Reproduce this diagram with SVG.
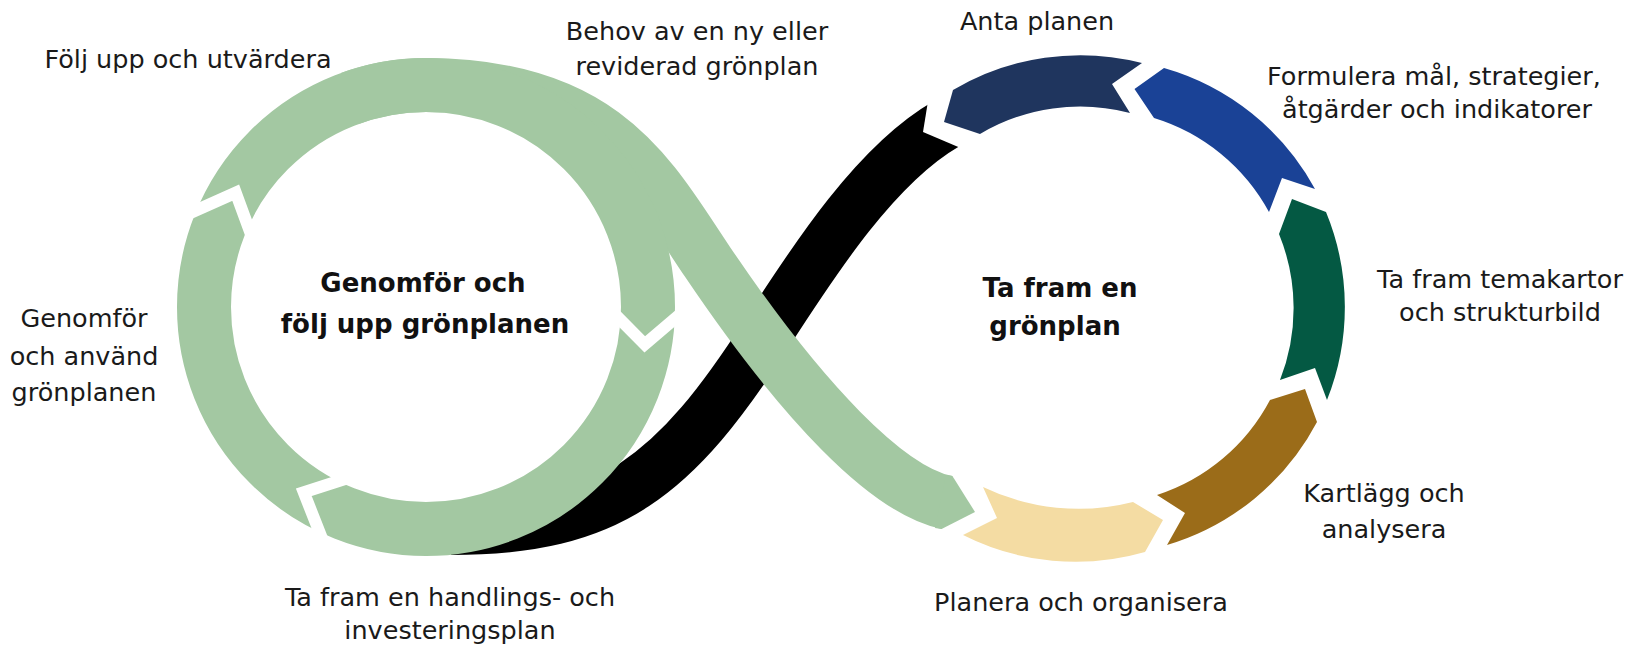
<svg xmlns="http://www.w3.org/2000/svg" width="1632" height="646" viewBox="0 0 1632 646">
<style>
.lbl{font-family:"DejaVu Sans","Noto Sans",sans-serif;font-size:25.5px;fill:#1a1a1a;text-anchor:middle}
.ttl{font-family:"DejaVu Sans","Noto Sans",sans-serif;font-size:26px;font-weight:700;fill:#111;text-anchor:middle}
.band{fill:none;stroke-linecap:butt}
.lg{fill:#a3c8a2}
.cut{fill:none;stroke:#fff;stroke-width:12;stroke-linejoin:miter;stroke-miterlimit:10}
</style>
<rect width="1632" height="646" fill="#fff"/>
<g id="connectors">
<path id="black-band" class="band" stroke="#000" stroke-width="52" d="M 946,124 C 876.7,164 815.6,257.4 767,333 C 675,476 611,529 451,529"/>
<polygon fill="#fff" points="929,95 923,132 963,149 978,112"/>
<path id="green-band" class="band" stroke="#a3c8a2" stroke-width="54" d="M 350.1,98.4 A 222 222 0 0 1 426,85 C 606,85 651.6,179 707.6,262 C 802.8,403.1 888,490.5 947,502.5"/>
<polygon class="lg" points="946,475 952.4,476 975,512 941.6,529 935,528"/>
</g>
<g id="left-cycle">
<circle cx="426" cy="307" r="222" fill="none" stroke="#a3c8a2" stroke-width="54"/>
<polyline class="cut" points="179.6,217.8 235.7,192.7 254.9,245"/>
<polyline class="cut" points="688,307.5 644.8,344.4 608,307.3"/>
<polyline class="cut" points="326.2,549.2 303.8,492.3 356.6,475.3"/>
</g>
<g id="node-folj-upp"><text class="lbl" x="188" y="68">Följ upp och utvärdera</text></g>
<g id="node-genomfor"><text class="lbl" x="84" y="327">Genomför</text><text class="lbl" x="84" y="365">och använd</text><text class="lbl" x="84" y="401">grönplanen</text></g>
<g id="node-handlingsplan"><text class="lbl" x="450" y="606">Ta fram en handlings- och</text><text class="lbl" x="450" y="639">investeringsplan</text></g>
<g id="node-behov"><text class="lbl" x="697" y="40">Behov av en ny eller</text><text class="lbl" x="697" y="75">reviderad grönplan</text></g>
<g id="node-left-title"><text class="ttl" x="423" y="292">Genomför och</text><text class="ttl" x="425" y="333">följ upp grönplanen</text></g>
<g id="node-planera">
<path fill="#f4dca3" d="M 963,535 A 250 250 0 0 0 1145,552 L 1163,520 L 1133,502 A 220 220 0 0 1 983,487 L 997,518 Z"/>
<text class="lbl" x="1081" y="611">Planera och organisera</text>
</g>
<g id="node-kartlagg">
<path fill="#9b6c19" d="M 1167,545 A 250 250 0 0 0 1317,422 L 1305,389 L 1270,400 A 196 196 0 0 1 1157,495 L 1185,513 Z"/>
<text class="lbl" x="1384" y="502">Kartlägg och</text><text class="lbl" x="1384" y="538">analysera</text>
</g>
<g id="node-temakartor">
<path fill="#045943" d="M 1327,400 A 250 250 0 0 0 1326,212 L 1292,199 L 1279,234 A 196 196 0 0 1 1280,380 L 1315,368 Z"/>
<text class="lbl" x="1500" y="288">Ta fram temakartor</text><text class="lbl" x="1500" y="321">och strukturbild</text>
</g>
<g id="node-formulera">
<path fill="#1a4296" d="M 1315,189 A 250 250 0 0 0 1164,68 L 1134.5,89 L 1154,118 A 196 196 0 0 1 1269,212 L 1282,178 Z"/>
<text class="lbl" x="1434" y="85">Formulera mål, strategier,</text><text class="lbl" x="1437" y="118">åtgärder och indikatorer</text>
</g>
<g id="node-anta">
<path fill="#1f355e" d="M 1142,63 A 250 250 0 0 0 953,90 L 944,122 L 980,134 A 196 196 0 0 1 1130,113 L 1112,84 Z"/>
<text class="lbl" x="1037" y="30">Anta planen</text>
</g>
<g id="node-right-title"><text class="ttl" x="1060" y="297">Ta fram en</text><text class="ttl" x="1055" y="335">grönplan</text></g>
</svg>
